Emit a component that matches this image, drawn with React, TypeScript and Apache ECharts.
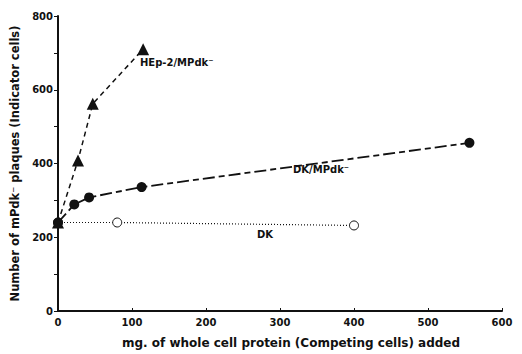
import React, { useEffect, useRef } from "react";
import * as echarts from "echarts";

const hepData: [number, number][] = [[0, 240], [27, 408], [47, 562], [115, 710]];
const dkMpData: [number, number][] = [[0, 240], [22, 289], [42, 308], [113, 336], [556, 456]];
const dkData: [number, number][] = [[0, 240], [80, 240], [400, 232]];

const xTitle = "mg. of whole cell protein (Competing cells) added";
const yTitle = "Number of mPdk⁻ plaques (Indicator cells)";

const FONT = "'DejaVu Sans', sans-serif";

export default function App() {
  const ref = useRef<HTMLDivElement>(null);
  useEffect(() => {
    const chart = echarts.init(ref.current!, null, { renderer: "svg" });
    chart.setOption({
      animation: false,
      backgroundColor: "#fff",
      grid: { left: 58, right: 20, top: 16, bottom: 42 },
      xAxis: {
        type: "value",
        min: 0,
        max: 600,
        interval: 100,
        splitLine: { show: false },
        axisLine: { lineStyle: { color: "#111", width: 2 } },
        axisTick: { inside: true, length: 3, lineStyle: { color: "#111" } },
        axisLabel: { color: "#111", fontFamily: FONT, fontWeight: "bold", fontSize: 10, margin: 6 },
        name: xTitle,
        nameLocation: "middle",
        nameGap: 26,
        nameTextStyle: { color: "#111", fontFamily: FONT, fontWeight: "bold", fontSize: 12, padding: [0, 0, 0, 22] },
      },
      yAxis: {
        type: "value",
        min: 0,
        max: 800,
        interval: 100,
        splitLine: { show: false },
        axisLine: { lineStyle: { color: "#111", width: 2 } },
        axisTick: { length: 4, lineStyle: { color: "#111" } },
        axisLabel: {
          color: "#111",
          fontFamily: FONT,
          fontWeight: "bold",
          fontSize: 10,
          margin: 5,
          formatter: (v: number) => (v % 200 === 0 ? String(v) : ""),
        },
        name: yTitle,
        nameLocation: "middle",
        nameGap: 28,
        nameTextStyle: { color: "#111", fontFamily: FONT, fontWeight: "bold", fontSize: 11.5 },
      },
      series: [
        {
          type: "line",
          data: dkData,
          symbol: "circle",
          symbolSize: 9,
          itemStyle: { color: "#fff", borderColor: "#111", borderWidth: 1 },
          lineStyle: { color: "#111", width: 1.2, type: [1, 2] },
          z: 2,
        },
        {
          type: "line",
          data: dkMpData,
          symbol: "circle",
          symbolSize: 10,
          itemStyle: { color: "#111", borderWidth: 0 },
          lineStyle: { color: "#111", width: 1.8, type: [12, 4, 6, 4] },
          z: 3,
        },
        {
          type: "line",
          data: hepData,
          symbol: "triangle",
          symbolSize: 12,
          itemStyle: { color: "#111", borderWidth: 0 },
          lineStyle: { color: "#111", width: 1.5, type: [5, 4] },
          z: 4,
        },
      ],
      graphic: [
        { type: "text", left: 140, top: 57, style: { text: "HEp-2/MPdk⁻", fill: "#111", font: `bold 10px ${FONT}` } },
        { type: "text", left: 293, top: 164, style: { text: "DK/MPdk⁻", fill: "#111", font: `bold 10px ${FONT}` } },
        { type: "text", left: 257, top: 229, style: { text: "DK", fill: "#111", font: `bold 10px ${FONT}` } },
      ],
    });
    return () => chart.dispose();
  }, []);
  return <div ref={ref} style={{ width: 522, height: 354, position: "absolute", left: 0, top: 0 }} />;
}
